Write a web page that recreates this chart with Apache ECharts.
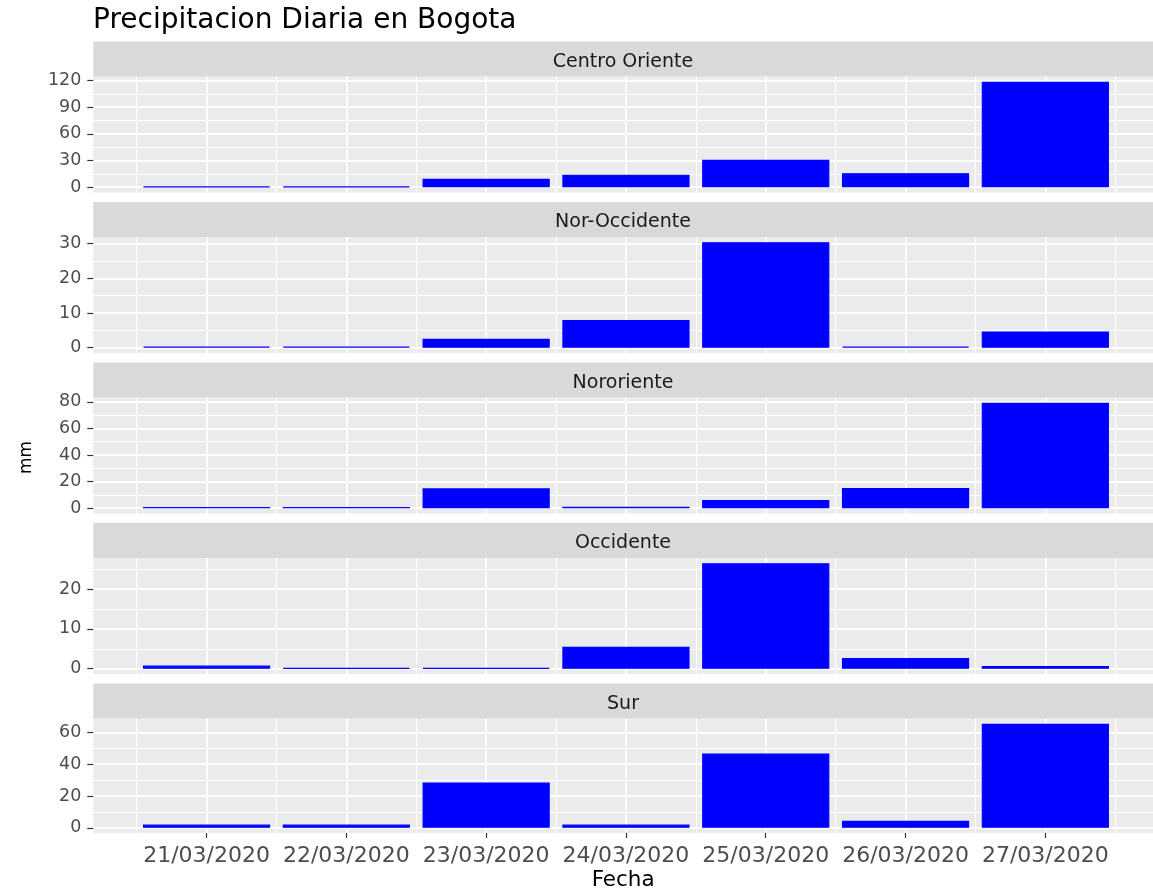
<!DOCTYPE html>
<html>
<head>
<meta charset="utf-8">
<title>Precipitacion Diaria en Bogota</title>
<script src="https://cdn.jsdelivr.net/npm/echarts@6/dist/echarts.min.js"></script>
<style>
  html, body { margin: 0; padding: 0; background: #fff; }
  #chart { width: 1153px; height: 892px; }
</style>
</head>
<body>
<div id="chart"></div>
<script>
// datos (mm por dia)
const fechas = ['21/03/2020', '22/03/2020', '23/03/2020', '24/03/2020', '25/03/2020', '26/03/2020', '27/03/2020']
const zonas = ['Centro Oriente', 'Nor-Occidente', 'Nororiente', 'Occidente', 'Sur']

const centroOriente = [1.0, 1.0, 9.4, 13.9, 30.8, 15.8, 118.6]
const norOccidente = [0.3, 0.3, 2.6, 8.0, 30.4, 0.3, 4.7]
const nororiente = [1.0, 1.0, 15.0, 1.2, 6.2, 15.2, 79.3]
const occidente = [0.8, 0.2, 0.2, 5.5, 26.5, 2.7, 0.7]
const sur = [2.0, 2.0, 28.5, 2.0, 46.8, 4.4, 65.5]

// marcas del eje y de cada panel
const ticksCentroOriente = [0, 30, 60, 90, 120]
const ticksNorOccidente = [0, 10, 20, 30]
const ticksNororiente = [0, 20, 40, 60, 80]
const ticksOccidente = [0, 10, 20]
const ticksSur = [0, 20, 40, 60]

const valores = [centroOriente, norOccidente, nororiente, occidente, sur]
const ticksY = [ticksCentroOriente, ticksNorOccidente, ticksNororiente, ticksOccidente, ticksSur]

// layout (px); el panel sigue mas alla del borde derecho, se corta en 1153
const FONT = '"DejaVu Sans", sans-serif'
const LEFT = 93.3
const WIDTH = 1153 - LEFT
const TOP0 = 76.5
const PANEL_H = 116
const STEP = 160.5
const STRIP_H = 35
const X_MIN = -0.81
const X_MAX = 6.77

const chart = echarts.init(document.getElementById('chart'), null, { renderer: 'canvas' })

const grids = []
const xAxes = []
const yAxes = []
const series = []
const graphics = []

const xMajor = fechas.map((_, i) => i)
const xMinor = fechas.map((_, i) => i - 0.5).concat([fechas.length - 0.5])

valores.forEach((vals, i) => {
  const top = TOP0 + i * STEP
  const last = i === valores.length - 1
  const vmax = Math.max(...vals)
  const yMin = -vmax * 0.05
  const yMax = vmax * 1.05
  const ticks = ticksY[i]
  const paso = ticks[1] - ticks[0]
  const minor = []
  ticks.forEach((t) => {
    ;[t - paso / 2, t + paso / 2].forEach((m) => {
      if (m > yMin && m < yMax && !minor.includes(m)) minor.push(m)
    })
  })

  grids.push({
    left: LEFT, top: top, width: WIDTH, height: PANEL_H,
    show: true, backgroundColor: '#EBEBEB', borderWidth: 0,
  })

  // eje x principal (dias) + eje x secundario (lineas menores)
  xAxes.push({
    type: 'value', gridIndex: i, min: X_MIN, max: X_MAX,
    name: last ? 'Fecha' : '',
    nameLocation: 'middle', nameGap: 36,
    nameTextStyle: { color: '#000', fontSize: 21.5, fontFamily: FONT },
    axisLine: { show: false, onZero: false },
    axisTick: { show: last, customValues: xMajor, length: 5, lineStyle: { color: '#333', width: 1.2 } },
    axisLabel: {
      show: last, customValues: xMajor, margin: 12,
      color: '#4D4D4D', fontSize: 22, fontFamily: FONT,
      formatter: (v) => fechas[Math.round(v)],
    },
    splitLine: { show: true, lineStyle: { color: '#FFFFFF', width: 1.8 } },
  })
  xAxes.push({
    type: 'value', gridIndex: i, min: X_MIN, max: X_MAX, position: 'top',
    axisLine: { show: false, onZero: false },
    axisTick: { show: false, customValues: xMinor },
    axisLabel: { show: false },
    splitLine: { show: true, lineStyle: { color: '#FFFFFF', width: 1.1 } },
  })

  yAxes.push({
    type: 'value', gridIndex: i, min: yMin, max: yMax,
    axisLine: { show: false, onZero: false },
    axisTick: { show: true, customValues: ticks, length: 6, lineStyle: { color: '#333', width: 1.2 } },
    axisLabel: { customValues: ticks, margin: 12, color: '#4D4D4D', fontSize: 17.5, fontFamily: FONT },
    splitLine: { show: true, lineStyle: { color: '#FFFFFF', width: 1.8 } },
  })
  yAxes.push({
    type: 'value', gridIndex: i, min: yMin, max: yMax, position: 'right',
    axisLine: { show: false, onZero: false },
    axisTick: { show: false, customValues: minor },
    axisLabel: { show: false },
    splitLine: { show: true, lineStyle: { color: '#FFFFFF', width: 1.1 } },
  })

  series.push({
    name: zonas[i],
    type: 'bar',
    xAxisIndex: i * 2,
    yAxisIndex: i * 2,
    data: vals.map((v, j) => [j, v]),
    barWidth: '91%',
    itemStyle: { color: '#0000FF', borderColor: '#0000FF', borderWidth: 1.2 },
  })

  // franja con el nombre de la zona
  graphics.push({
    type: 'rect',
    shape: { x: LEFT, y: top - STRIP_H, width: WIDTH + 5, height: STRIP_H },
    style: { fill: '#D9D9D9' },
  })
  graphics.push({
    type: 'text',
    x: 623,
    y: top - STRIP_H / 2 + 3,
    style: {
      text: zonas[i], fill: '#1A1A1A', fontSize: 19, fontFamily: FONT,
      align: 'center', verticalAlign: 'middle',
    },
  })
})

graphics.push({
  type: 'text',
  x: 27,
  y: 457.5,
  rotation: Math.PI / 2,
  style: {
    text: 'mm', fill: '#000', fontSize: 17, fontFamily: FONT,
    align: 'center', verticalAlign: 'middle',
  },
})

chart.setOption({
  animation: false,
  backgroundColor: '#FFFFFF',
  title: {
    text: 'Precipitacion Diaria en Bogota',
    left: 93, top: 7, padding: 0,
    textStyle: { color: '#000', fontSize: 28, fontWeight: 'normal', fontFamily: FONT },
  },
  grid: grids,
  xAxis: xAxes,
  yAxis: yAxes,
  series: series,
  graphic: graphics,
})
</script>
</body>
</html>
